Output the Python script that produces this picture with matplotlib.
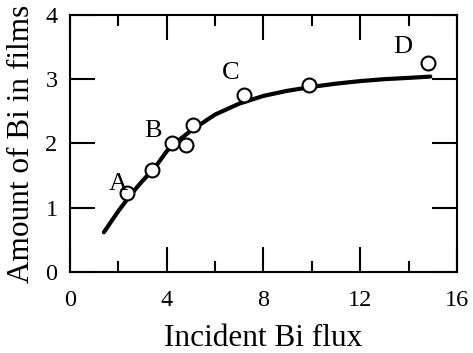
import numpy as np
import matplotlib.pyplot as plt
from matplotlib.ticker import MultipleLocator

# measured points (circles)
flux = [2.35, 3.4, 4.2, 4.8, 5.1, 7.2, 9.9, 14.8]
amount = [1.23, 1.59, 2.0, 1.98, 2.29, 2.75, 2.91, 3.25]

# fitted curve
curve_x = [1.4, 2.0, 2.5, 3.0, 3.5, 4.0, 4.5, 5.0, 6.0, 7.0, 8.0, 9.0, 10.0, 11.0, 12.0, 13.0, 14.0, 14.9]
curve_y = [0.62, 0.95, 1.2, 1.42, 1.62, 1.88, 2.05, 2.2, 2.45, 2.62, 2.74, 2.82, 2.88, 2.93, 2.97, 3.0, 3.02, 3.04]

labels = ['A', 'B', 'C', 'D']
label_x = [2.0, 3.45, 6.65, 13.75]
label_y = [1.37, 2.2, 3.1, 3.5]

plt.rcParams['font.family'] = ['Liberation Serif', 'DejaVu Serif']
fig = plt.figure(figsize=(4.73, 3.53), dpi=100)
ax = fig.add_axes([0.148, 0.229, 0.818, 0.729])

ax.plot(curve_x, curve_y, color='black', lw=3, solid_capstyle='round', zorder=2)
ax.plot(flux, amount, 'o', ms=10, mfc='white', mec='black', mew=1.5, zorder=3)

for t, lx, ly in zip(labels, label_x, label_y):
    ax.text(lx, ly, t, fontsize=19, ha='center', va='center')

ax.set_xlim(0, 16)
ax.set_ylim(0, 4)
ax.xaxis.set_major_locator(MultipleLocator(4))
ax.xaxis.set_minor_locator(MultipleLocator(2))
ax.yaxis.set_major_locator(MultipleLocator(1))
ax.tick_params(which='major', direction='in', length=18, width=1.5,
               top=True, right=True, labelsize=17.5)
ax.tick_params(which='minor', direction='in', length=8, width=1.5,
               top=True, right=True)
ax.tick_params(axis='x', which='major', pad=13)
ax.tick_params(axis='y', which='major', pad=9)
for s in ax.spines.values():
    s.set_linewidth(1.5)

ax.set_xlabel('Incident Bi flux', fontsize=22.5, labelpad=9)
ax.set_ylabel('Amount of Bi in films', fontsize=22.5, labelpad=7)

plt.savefig('out.png', dpi=100)
